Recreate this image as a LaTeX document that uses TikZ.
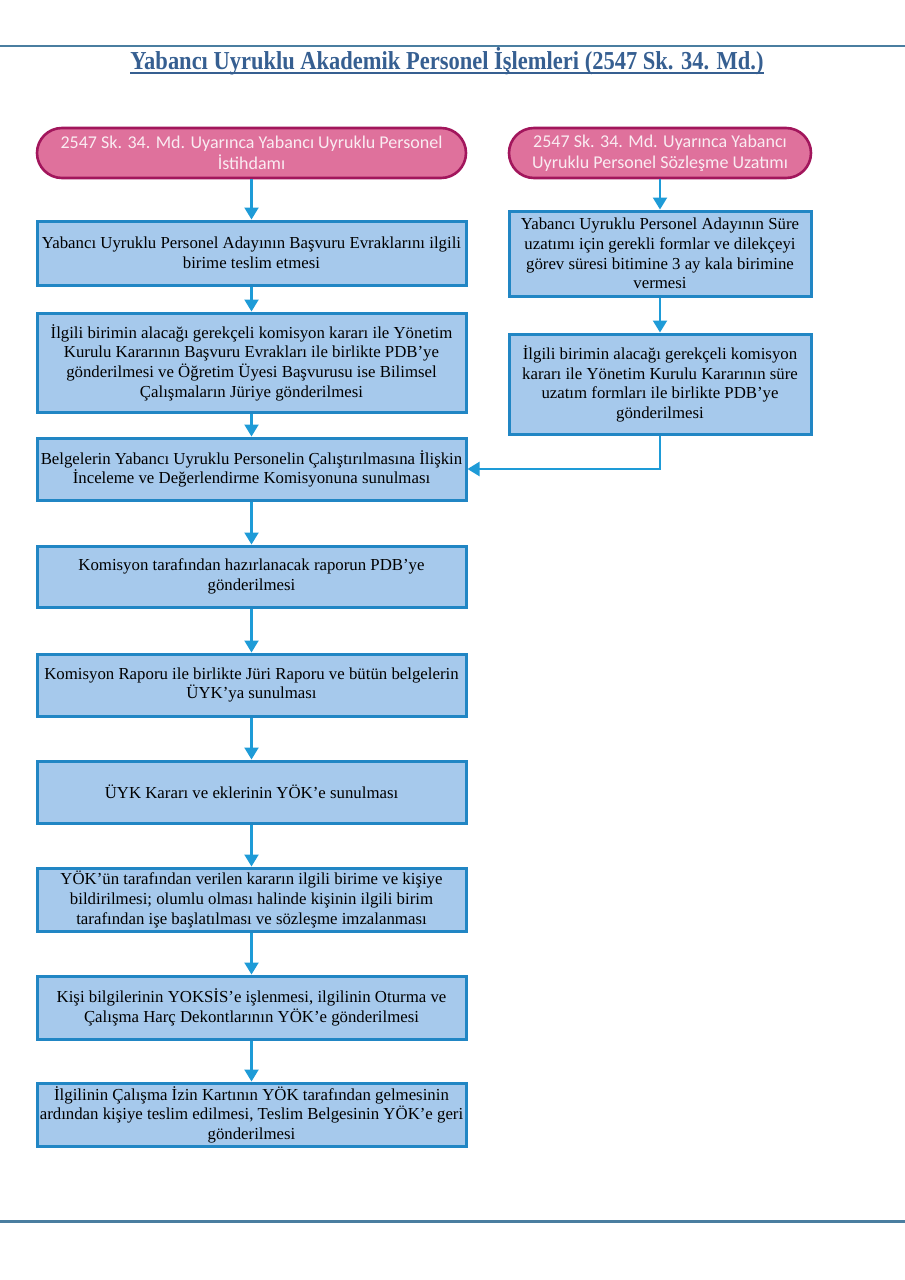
\documentclass[tikz,border=0pt]{standalone}
\usepackage{fontspec}
\setmainfont{Liberation Serif}
\newfontfamily\pillfont{Carlito}
\newfontfamily\titlefont{Liberation Serif}
\usetikzlibrary{arrows.meta}
\definecolor{boxfill}{RGB}{166,201,236}
\definecolor{boxline}{RGB}{33,134,196}
\definecolor{conncol}{RGB}{30,155,215}
\definecolor{pillfill}{RGB}{223,113,156}
\definecolor{pillline}{RGB}{162,22,92}
\definecolor{pilltext}{RGB}{250,236,242}
\definecolor{titlecol}{RGB}{54,95,145}
\definecolor{rulecol}{RGB}{74,126,160}
\tikzset{
  procbox/.style={draw=boxline, fill=boxfill, line width=3pt, align=center,
    inner sep=0pt, font=\fontsize{16.8pt}{19.6pt}\selectfont},
  pill/.style={draw=pillline, fill=pillfill, line width=2.6pt, rounded corners=25pt,
    align=center, inner sep=0pt, text=pilltext,
    font=\pillfont\fontsize{18pt}{21pt}\selectfont},
  conn/.style={draw=conncol, line width=2.2pt, -{Triangle[length=12pt,width=14pt]}},
  rulestyle/.style={draw=rulecol, line width=1.6pt}
}
\begin{document}
\begin{tikzpicture}[x=1pt,y=-1pt]
\useasboundingbox (0,0) rectangle (905,1280);
% page rules
\coordinate (rtl) at (0,46);
\coordinate (rtr) at (905,46);
\coordinate (rbl) at (0,1221.5);
\coordinate (rbr) at (905,1221.5);
\draw[rulestyle] (rtl) -- (rtr);
\draw[rulestyle, line width=2.2pt] (rbl) -- (rbr);
% title
\node[text=titlecol, inner sep=0pt, anchor=base] (title) at (447,69.5)
  {\resizebox{633pt}{!}{\scalebox{1}[1.15]{\titlefont\bfseries Yabancı Uyruklu Akademik Personel İşlemleri (2547 Sk. 34. Md.)}}};
\coordinate (ulL) at ([yshift=-3.5pt]title.base west);
\coordinate (ulR) at ([yshift=-3.5pt]title.base east);
\draw[titlecol, line width=1.6pt] (ulL) -- (ulR);
% left column
\node[pill, minimum width=429pt, minimum height=50pt] (sl) at (251.5,153)
  {2547 Sk. 34. Md. Uyarınca Yabancı Uyruklu Personel\\İstihdamı};
\node[procbox, minimum width=429pt, minimum height=64pt] (b1) at (251.5,253)
  {Yabancı Uyruklu Personel Adayının Başvuru Evraklarını ilgili\\birime teslim etmesi};
\node[procbox, minimum width=429pt, minimum height=99pt] (b2) at (251.5,362.5)
  {İlgili birimin alacağı gerekçeli komisyon kararı ile Yönetim\\Kurulu Kararının Başvuru Evrakları ile birlikte PDB’ye\\gönderilmesi ve Öğretim Üyesi Başvurusu ise Bilimsel\\Çalışmaların Jüriye gönderilmesi};
\node[procbox, minimum width=429pt, minimum height=62pt] (b3) at (251.5,469)
  {Belgelerin Yabancı Uyruklu Personelin Çalıştırılmasına İlişkin\\İnceleme ve Değerlendirme Komisyonuna sunulması};
\node[procbox, minimum width=429pt, minimum height=61pt] (b4) at (251.5,576.5)
  {Komisyon tarafından hazırlanacak raporun PDB’ye\\gönderilmesi};
\node[procbox, minimum width=429pt, minimum height=62pt] (b5) at (251.5,685)
  {Komisyon Raporu ile birlikte Jüri Raporu ve bütün belgelerin\\ÜYK’ya sunulması};
\node[procbox, minimum width=429pt, minimum height=62pt] (b6) at (251.5,792)
  {ÜYK Kararı ve eklerinin YÖK’e sunulması};
\node[procbox, minimum width=429pt, minimum height=63pt] (b7) at (251.5,899.5)
  {YÖK’ün tarafından verilen kararın ilgili birime ve kişiye\\bildirilmesi; olumlu olması halinde kişinin ilgili birim\\tarafından işe başlatılması ve sözleşme imzalanması};
\node[procbox, minimum width=429pt, minimum height=63pt] (b8) at (251.5,1007.5)
  {Kişi bilgilerinin YOKSİS’e işlenmesi, ilgilinin Oturma ve\\Çalışma Harç Dekontlarının YÖK’e gönderilmesi};
\node[procbox, minimum width=429pt, minimum height=63pt] (b9) at (251.5,1114.5)
  {İlgilinin Çalışma İzin Kartının YÖK tarafından gelmesinin\\ardından kişiye teslim edilmesi, Teslim Belgesinin YÖK’e geri\\gönderilmesi};
% right column
\node[pill, minimum width=302pt, minimum height=50pt] (sr) at (660,153)
  {2547 Sk. 34. Md. Uyarınca Yabancı\\Uyruklu Personel Sözleşme Uzatımı};
\node[procbox, minimum width=302pt, minimum height=85pt] (r1) at (660,253.5)
  {Yabancı Uyruklu Personel Adayının Süre\\uzatımı için gerekli formlar ve dilekçeyi\\görev süresi bitimine 3 ay kala birimine\\vermesi};
\node[procbox, minimum width=302pt, minimum height=100pt] (r2) at (660,384)
  {İlgili birimin alacağı gerekçeli komisyon\\kararı ile Yönetim Kurulu Kararının süre\\uzatım formları ile birlikte PDB’ye\\gönderilmesi};
% connectors
\draw[conn] (sl) -- (b1);
\draw[conn] (b1) -- (b2);
\draw[conn] (b2) -- (b3);
\draw[conn] (b3) -- (b4);
\draw[conn] (b4) -- (b5);
\draw[conn] (b5) -- (b6);
\draw[conn] (b6) -- (b7);
\draw[conn] (b7) -- (b8);
\draw[conn] (b8) -- (b9);
\draw[conn] (sr) -- (r1);
\draw[conn] (r1) -- (r2);
\draw[conn] (r2.south) |- (b3.east);
\end{tikzpicture}
\end{document}
